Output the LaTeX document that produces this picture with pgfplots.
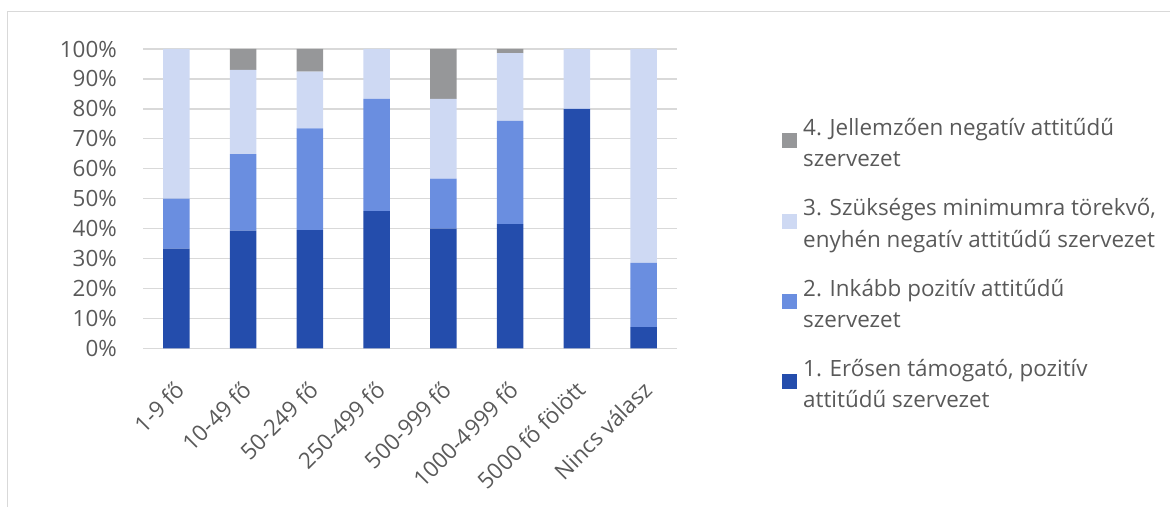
\documentclass[border=0pt]{standalone}
\usepackage{pgfplots}
\pgfplotsset{compat=1.18}
\usepackage{fontspec}
\setmainfont{Open Sans}
\definecolor{cdark}{HTML}{244DAC}
\definecolor{cmid}{HTML}{6A8EE0}
\definecolor{clight}{HTML}{CED9F3}
\definecolor{cgray}{HTML}{969799}
\definecolor{ctext}{HTML}{595959}
\definecolor{cgrid}{HTML}{D9D9D9}
\begin{document}
\begin{tikzpicture}[font=\fontsize{22.5}{31.5}\selectfont]
\useasboundingbox (0,0) rectangle (1170bp,507bp);
\draw[cgrid, line width=1bp] (7.5bp,0bp) -- (7.5bp,495.5bp) -- (1170bp,495.5bp);
\begin{axis}[
  at={(143bp,158.7bp)}, anchor=south west,
  scale only axis, width=534bp, height=299.3bp,
  ybar stacked, bar width=26.7bp,
  xmin=-0.5, xmax=7.5, ymin=0, ymax=100,
  xtick={0,...,7},
  xticklabels={1-9 fő,10-49 fő,50-249 fő,250-499 fő,500-999 fő,1000-4999 fő,5000 fő fölött,Nincs válasz},
  ytick={0,10,...,100},
  yticklabels={0\%,10\%,20\%,30\%,40\%,50\%,60\%,70\%,80\%,90\%,100\%},
  axis line style={draw=none},
  major tick length=0pt,
  ymajorgrids, grid style={cgrid, line width=1.3bp},
  tick label style={text=ctext},
  yticklabel style={anchor=east, inner sep=0pt, xshift=-26bp},
  xticklabel style={xshift=-2bp, yshift=-31bp, rotate=45, anchor=north east, inner sep=0pt},
  clip=false,
  reverse legend,
  legend style={at={(axis description cs:1.1966,0.786)}, anchor=north west,
    draw=none, fill=none, inner sep=0pt, row sep=14bp, column sep=0pt,
    nodes={inner sep=0pt, align=left, text=ctext, anchor=west}},
  legend image code/.code={\fill[#1] (0bp,-7.5bp) rectangle (15bp,7.5bp); \path (0bp,-39bp) (21bp,0bp);},
]
\addplot[fill=cdark, draw=none] coordinates {(0,33.3) (1,39.3) (2,39.5) (3,45.8) (4,40.0) (5,41.5) (6,80.0) (7,7.1)};
\addplot[fill=cmid, draw=none] coordinates {(0,16.7) (1,25.6) (2,34.0) (3,37.5) (4,16.7) (5,34.5) (6,0) (7,21.4)};
\addplot[fill=clight, draw=none] coordinates {(0,50.0) (1,28.1) (2,18.9) (3,16.7) (4,26.6) (5,22.6) (6,20.0) (7,71.5)};
\addplot[fill=cgray, draw=none] coordinates {(0,0) (1,7.0) (2,7.6) (3,0) (4,16.7) (5,1.4) (6,0) (7,0)};
\legend{{\strut 1. Erősen támogató, pozitív\\attitűdű szervezet\strut},
        {\strut 2. Inkább pozitív attitűdű\\szervezet\strut},
        {\strut 3. Szükséges minimumra törekvő,\\enyhén negatív attitűdű szervezet\strut},
        {\strut 4. Jellemzően negatív attitűdű\\szervezet\strut}}
\end{axis}
\end{tikzpicture}
\end{document}
